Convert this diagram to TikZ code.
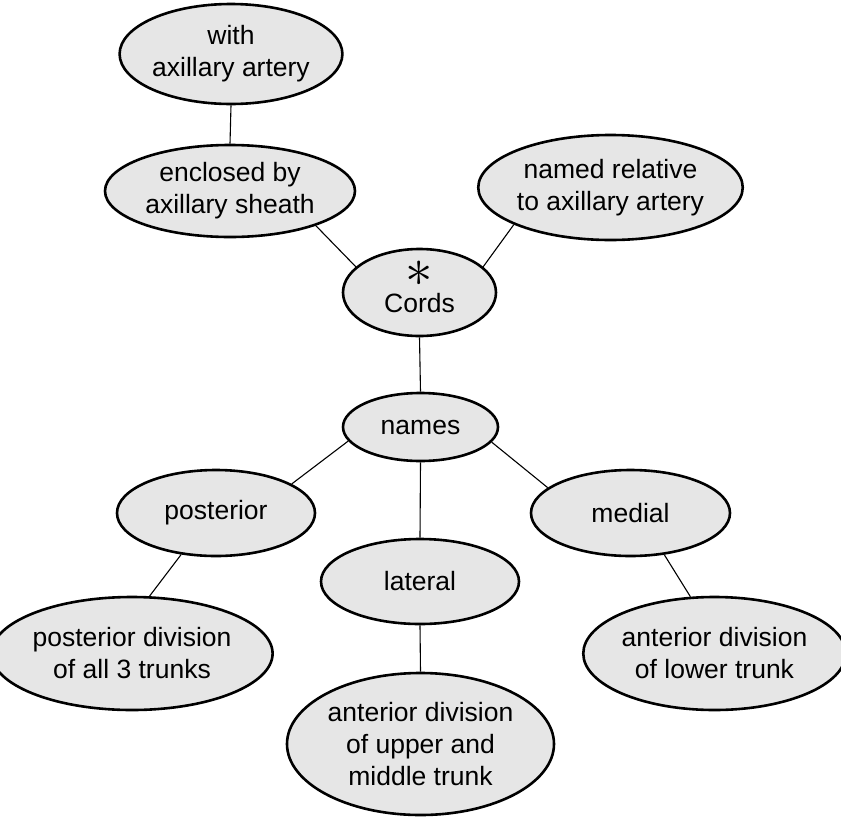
\documentclass[tikz,border=0pt]{standalone}
\usepackage{fontspec}
\setmainfont{Liberation Sans}
\usetikzlibrary{shapes.geometric}
\definecolor{bubble}{HTML}{E6E6E6}
\tikzset{
  bub/.style={ellipse, draw=black, fill=bubble, line width=2.6pt, inner sep=0pt,
    align=center, font=\fontsize{26.5}{32}\selectfont},
  link/.style={draw=black, line width=1.1pt},
}
\begin{document}
\begin{tikzpicture}[x=1pt,y=-1pt]
\useasboundingbox (0,0) rectangle (841,817);
\node[bub, minimum width=216pt, minimum height=100pt] (with) at (231,54) {with\\axillary artery};
\node[bub, minimum width=250pt, minimum height=92pt] (encl) at (230,191) {enclosed by\\axillary sheath};
\node[bub, minimum width=257pt, minimum height=105pt] (named) at (610.5,187.5) {named relative\\to axillary artery};
\node[bub, minimum width=153pt, minimum height=87pt] (cords) at (419.5,292.5) {\makebox[0pt]{\raisebox{-14.5pt}[0pt][0pt]{\scalebox{2.2}{$\ast$}}}\\[9pt]Cords};
\node[bub, minimum width=155pt, minimum height=68pt] (names) at (420.5,427) {names};
\node[bub, minimum width=198pt, minimum height=86pt] (post) at (216,513) {posterior};
\node[bub, minimum width=199pt, minimum height=86pt] (medial) at (630.5,513) {medial};
\node[bub, minimum width=198pt, minimum height=85pt] (lateral) at (420,581.5) {lateral};
\node[bub, minimum width=254pt, minimum height=113pt] (postdiv) at (132,653.5) {posterior division\\of all 3 trunks};
\node[bub, minimum width=251pt, minimum height=113pt] (antlow) at (714.5,653.5) {anterior division\\of lower trunk};
\node[bub, minimum width=267pt, minimum height=142pt] (antup) at (420.5,744) {anterior division\\of upper and\\middle trunk};
\draw[link] (with.south) -- (encl.north);
\draw[link] (encl.338) -- (cords.158);
\draw[link] (named.201) -- (cords.22);
\draw[link] (cords.south) -- (names.north);
\draw[link] (names.191) -- (post.21);
\draw[link] (names.south) -- (lateral.north);
\draw[link] (names.348) -- (medial.163);
\draw[link] (post.230) -- (postdiv.73);
\draw[link] (lateral.south) -- (antup.north);
\draw[link] (medial.309) -- (antlow.113);
\end{tikzpicture}
\end{document}
